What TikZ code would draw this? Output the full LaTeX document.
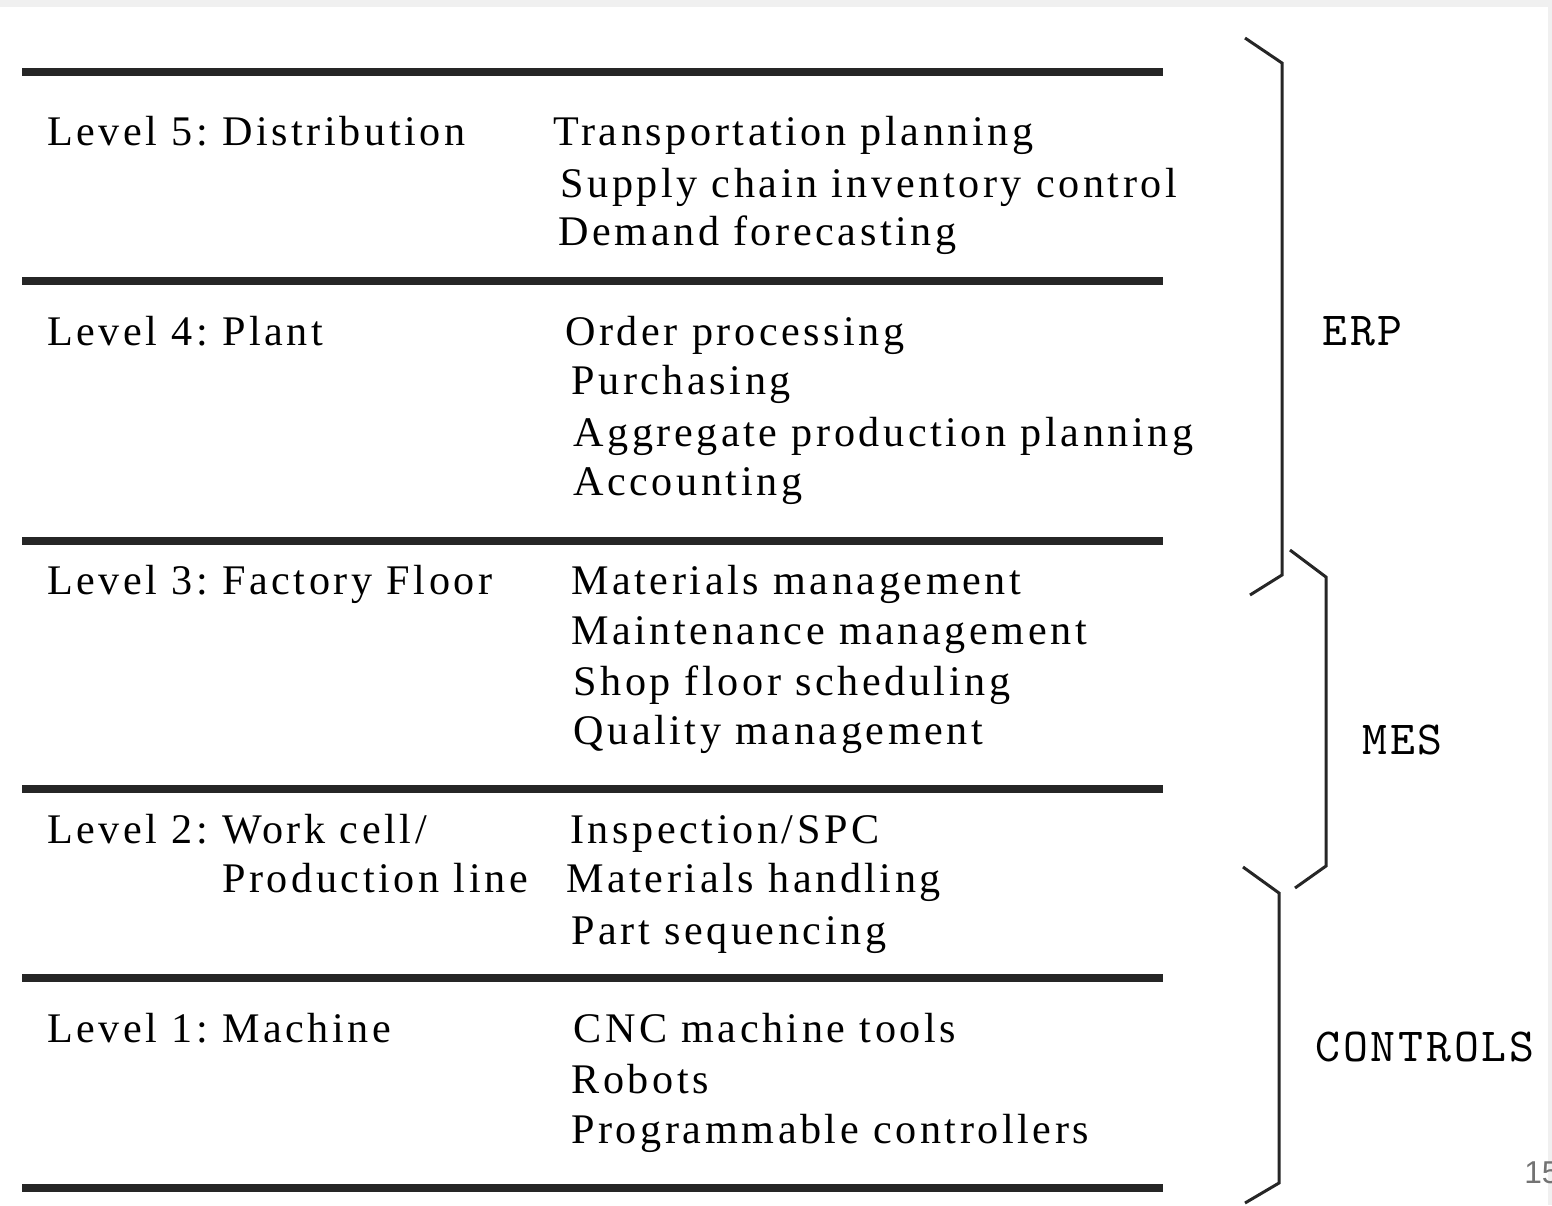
\documentclass[tikz,border=0pt]{standalone}
\usepackage{fontspec}
\setmainfont{Liberation Serif}[LetterSpace=8.5]
\newfontfamily\tagfont{lmmono10-regular}[Extension=.otf,LetterSpace=6]
\newfontfamily\pagefont{Liberation Sans}
\usetikzlibrary{positioning}
\frenchspacing

\tikzset{
	rule/.style={line width=0.15cm,black!85},
	brc/.style={line width=0.06cm,black!85,line join=miter},
	lvl/.style={anchor=base west,inner sep=0pt,font=\fontsize{24}{28}\selectfont},
	item/.style={anchor=base west,inner sep=0pt,font=\fontsize{24}{28}\selectfont},
	tag/.style={anchor=west,inner sep=0pt,font=\tagfont\fontsize{27}{30}\selectfont}
}

\begin{document}
\begin{tikzpicture}[x=0.02cm,y=-0.02cm]
	\useasboundingbox (0,0) rectangle (1552,1205);
	\fill[black!6] (0,0) rectangle (1552,7);
	\fill[black!6] (1548,7) rectangle (1552,1205);

	% level rules
	\foreach \y [count=\n] in {72,281,541,789,978,1188}
		\draw[rule] (22,\y) coordinate (A\n) -- (1163,\y) coordinate (B\n);

	% level names
	\foreach \x/\y/\t [count=\n] in {47/145/{Level 5: Distribution},47/345/{Level 4: Plant},47/594/{Level 3: Factory Floor},47/843/{Level 2: Work cell/},222/892/{Production line},47/1042/{Level 1: Machine}}
		\node[lvl] (L\n) at (\x,\y) {\t};

	% functions
	\foreach \x/\y/\t [count=\n] in {553/145/{Transportation planning},560/197/{Supply chain inventory control},558/245/{Demand forecasting},
		565/345/{Order processing},571/394/{Purchasing},573/446/{Aggregate production planning},573/495/{Accounting},
		571/594/{Materials management},571/644/{Maintenance management},573/695/{Shop floor scheduling},573/744/{Quality management},
		570/843/{Inspection/SPC},566/892/{Materials handling},571/944/{Part sequencing},
		573/1042/{CNC machine tools},571/1093/{Robots},571/1143/{Programmable controllers}}
		\node[item] (F\n) at (\x,\y) {\t};

	% braces
	\draw[brc] (1245,38) -- (1282,63) -- (1282,575) -- (1250,595);
	\draw[brc] (1290,550) -- (1326,577) -- (1326,866) -- (1295,888);
	\draw[brc] (1243,867) -- (1279,893) -- (1279,1183) -- (1245,1203);

	\node[tag] (erp) at (1322,331) {ERP};
	\node[tag] (mes) at (1362,740) {MES};
	\node[tag] (ctl) at (1315,1047) {CONTROLS};

	\node[anchor=base west,inner sep=0pt,text=black!55,font=\pagefont\fontsize{18}{20}\selectfont] (pg) at (1524,1183) {15};
\end{tikzpicture}
\end{document}
